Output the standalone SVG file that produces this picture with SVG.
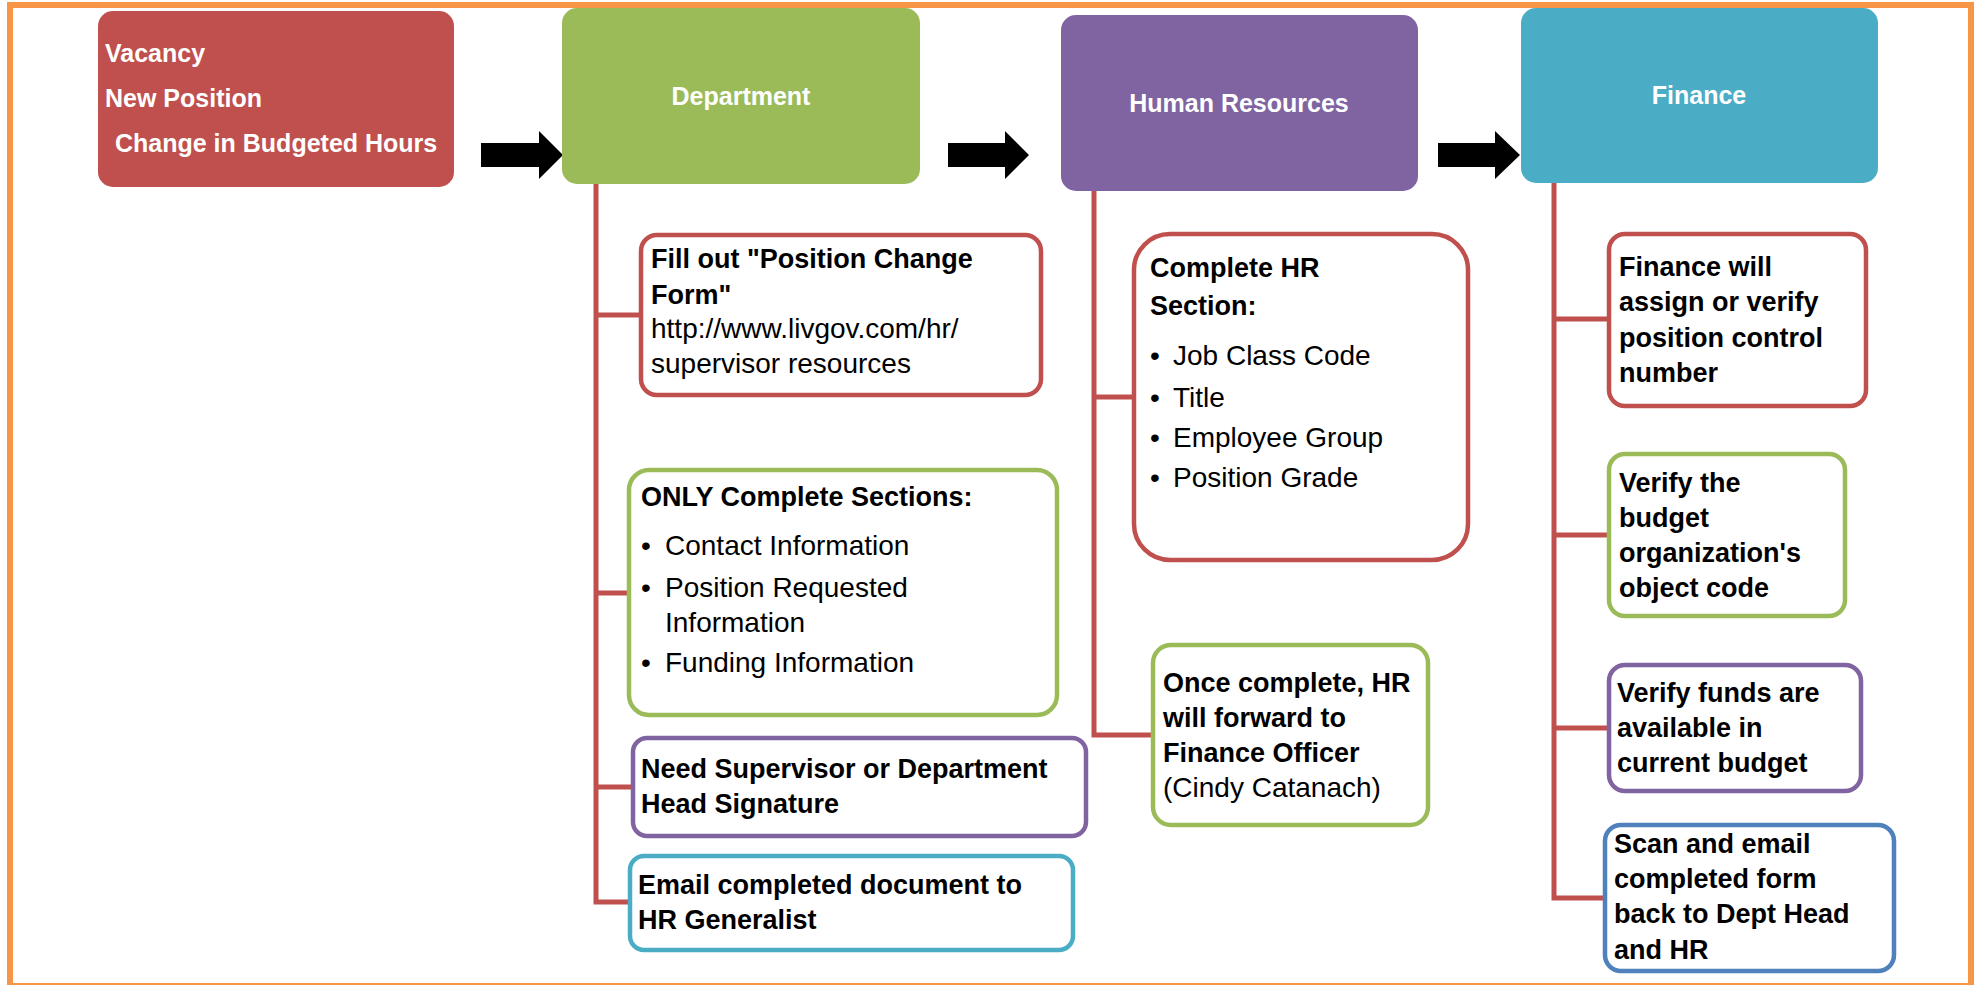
<svg xmlns="http://www.w3.org/2000/svg" width="1979" height="985" viewBox="0 0 1979 985">
<style>
.hdr{font-family:"Liberation Sans",Arial,sans-serif;font-weight:bold;font-size:25px;fill:#fff}
.b{font-family:"Liberation Sans",Arial,sans-serif;font-weight:bold;font-size:27px;fill:#000}
.r{font-family:"Liberation Sans",Arial,sans-serif;font-size:28px;fill:#000}
.box{fill:#fff;stroke-width:4.5}
.conn{fill:none;stroke:#C0504D;stroke-width:5}
.arrow{fill:#000}
</style>
<rect x="10" y="5" width="1961" height="981" fill="#fff" stroke="#F79646" stroke-width="6"/>

<g id="connectors">
<path class="conn" d="M596,184 V902 H630 M596,315 H641 M596,593 H629 M596,787 H633"/>
<path class="conn" d="M1094,191 V735 H1153 M1094,397 H1134"/>
<path class="conn" d="M1554,183 V898 H1605 M1554,319 H1609 M1554,535 H1609 M1554,728 H1609"/>
<polygon class="arrow" points="481,143 539,143 539,131 563,155 539,179 539,167 481,167"/>
<polygon class="arrow" points="948,143 1005,143 1005,131 1029,155 1005,179 1005,167 948,167"/>
<polygon class="arrow" points="1438,143 1495,143 1495,131 1520,155 1495,179 1495,167 1438,167"/>
</g>

<g id="start">
<rect x="98" y="11" width="356" height="176" rx="15" fill="#C0504D"/>
<text class="hdr" x="105" y="62">Vacancy</text>
<text class="hdr" x="105" y="107">New Position</text>
<text class="hdr" x="115" y="152">Change in Budgeted Hours</text>
</g>

<g id="department">
<rect x="562" y="8" width="358" height="176" rx="15" fill="#9BBB59"/>
<text class="hdr" x="741" y="105" text-anchor="middle">Department</text>
</g>

<g id="hr">
<rect x="1061" y="15" width="357" height="176" rx="15" fill="#8064A2"/>
<text class="hdr" x="1239" y="112" text-anchor="middle">Human Resources</text>
</g>

<g id="finance">
<rect x="1521" y="8" width="357" height="175" rx="15" fill="#4BACC6"/>
<text class="hdr" x="1699" y="104" text-anchor="middle">Finance</text>
</g>

<g id="dept-fill-form">
<rect class="box" x="641" y="235" width="400" height="160" rx="16" stroke="#C0504D"/>
<text class="b" x="651" y="268">Fill out "Position Change</text>
<text class="b" x="651" y="304">Form"</text>
<text class="r" x="651" y="338">http://www.livgov.com/hr/</text>
<text class="r" x="651" y="373">supervisor resources</text>
</g>

<g id="dept-sections">
<rect class="box" x="629" y="470" width="428" height="245" rx="20" stroke="#9BBB59"/>
<text class="b" x="641" y="506">ONLY Complete Sections:</text>
<text class="r" x="641" y="555">•</text><text class="r" x="665" y="555">Contact Information</text>
<text class="r" x="641" y="597">•</text><text class="r" x="665" y="597">Position Requested</text>
<text class="r" x="665" y="632">Information</text>
<text class="r" x="641" y="672">•</text><text class="r" x="665" y="672">Funding Information</text>
</g>

<g id="dept-signature">
<rect class="box" x="633" y="738" width="453" height="98" rx="14" stroke="#8064A2"/>
<text class="b" x="641" y="778">Need Supervisor or Department</text>
<text class="b" x="641" y="813">Head Signature</text>
</g>

<g id="dept-email">
<rect class="box" x="630" y="856" width="443" height="94" rx="14" stroke="#4BACC6"/>
<text class="b" x="638" y="894">Email completed document to</text>
<text class="b" x="638" y="929">HR Generalist</text>
</g>

<g id="hr-section">
<rect class="box" x="1134" y="234" width="334" height="326" rx="36" stroke="#C0504D"/>
<text class="b" x="1150" y="277">Complete HR</text>
<text class="b" x="1150" y="315">Section:</text>
<text class="r" x="1150" y="365">•</text><text class="r" x="1173" y="365">Job Class Code</text>
<text class="r" x="1150" y="407">•</text><text class="r" x="1173" y="407">Title</text>
<text class="r" x="1150" y="447">•</text><text class="r" x="1173" y="447">Employee Group</text>
<text class="r" x="1150" y="487">•</text><text class="r" x="1173" y="487">Position Grade</text>
</g>

<g id="hr-forward">
<rect class="box" x="1153" y="645" width="275" height="180" rx="18" stroke="#9BBB59"/>
<text class="b" x="1163" y="692">Once complete, HR</text>
<text class="b" x="1163" y="727">will forward to</text>
<text class="b" x="1163" y="762">Finance Officer</text>
<text class="r" x="1163" y="797">(Cindy Catanach)</text>
</g>

<g id="fin-assign">
<rect class="box" x="1609" y="234" width="257" height="172" rx="16" stroke="#C0504D"/>
<text class="b" x="1619" y="276">Finance will</text>
<text class="b" x="1619" y="311">assign or verify</text>
<text class="b" x="1619" y="347">position control</text>
<text class="b" x="1619" y="382">number</text>
</g>

<g id="fin-object">
<rect class="box" x="1609" y="454" width="236" height="162" rx="16" stroke="#9BBB59"/>
<text class="b" x="1619" y="492">Verify the</text>
<text class="b" x="1619" y="527">budget</text>
<text class="b" x="1619" y="562">organization's</text>
<text class="b" x="1619" y="597">object code</text>
</g>

<g id="fin-funds">
<rect class="box" x="1609" y="665" width="252" height="126" rx="16" stroke="#8064A2"/>
<text class="b" x="1617" y="702">Verify funds are</text>
<text class="b" x="1617" y="737">available in</text>
<text class="b" x="1617" y="772">current budget</text>
</g>

<g id="fin-scan">
<rect class="box" x="1605" y="825" width="289" height="146" rx="16" stroke="#4F81BD"/>
<text class="b" x="1614" y="853">Scan and email</text>
<text class="b" x="1614" y="888">completed form</text>
<text class="b" x="1614" y="923">back to Dept Head</text>
<text class="b" x="1614" y="959">and HR</text>
</g>
</svg>
